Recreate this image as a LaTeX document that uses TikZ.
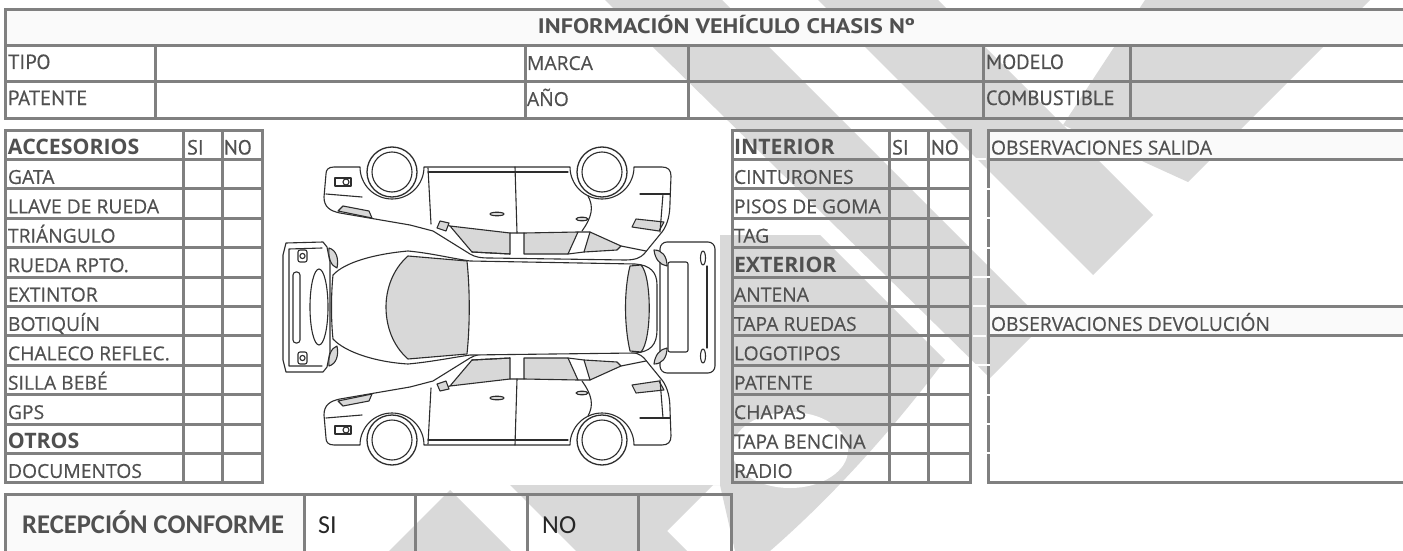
\documentclass[tikz,border=0pt]{standalone}
\usepackage{fontspec}
\setmainfont{Open Sans}
\newfontfamily\osreg{Open Sans}[FakeBold=0.4]
\newfontfamily\ptsans{PT Sans}[FakeBold=0.3]
\newfontfamily\ptsansb{PT Sans Bold}
\newfontfamily\carlito{Carlito}
\definecolor{ln}{RGB}{128,128,128}
\definecolor{tx}{RGB}{80,80,80}
\definecolor{hd}{RGB}{250,250,250}
\definecolor{wm}{RGB}{217,217,217}
\definecolor{glass}{RGB}{216,216,216}
\definecolor{cl}{RGB}{45,45,45}
\newcommand\sideview{%
  \draw[car,fill=white] (326,438) -- (324,415) .. controls (324,405) and (330,401) .. (340,399)
    -- (410,387) -- (433,381) -- (470,358) .. controls (475,355) and (480,354) .. (490,354)
    -- (625,352) .. controls (635,352) and (640,354) .. (644,358) -- (662,380)
    .. controls (668,388) and (670,398) .. (670,410) -- (671,436)
    .. controls (671,442) and (668,445) .. (662,445) -- (634,445)
    arc[start angle=0,end angle=-180,radius=32] -- (424,445)
    arc[start angle=0,end angle=-180,radius=32] -- (334,445)
    .. controls (328,445) and (326,442) .. (326,438) -- cycle;
  \draw[car,fill=glass] (450,386) -- (472,360) -- (510,358) -- (510,379) -- cycle;
  \draw[car,fill=glass] (524,358) -- (568,358) -- (578,380) -- (524,379) -- cycle;
  \draw[car,fill=glass] (584,360) -- (617,362) -- (621,366) -- (590,380) -- cycle;
  \draw[car] (440,389) -- (450,386) (510,379) -- (524,379) (578,380) -- (590,380) (621,366) -- (646,361);
  \draw[car] (472,360) -- (510,358) (568,358) -- (584,360);
  \draw[car] (431,388) -- (428,444);
  \draw[car] (517,379) -- (515,445);
  \draw[car] (582,381) .. controls (592,395) and (594,405) .. (588,416);
  \draw[car] (428,440) -- (568,440);
  \draw[car,fill=glass] (497,398) ellipse [x radius=7,y radius=1.8];
  \draw[car,fill=glass] (582,393) ellipse [x radius=6,y radius=1.8];
  \draw[car,fill=glass] (437,384) -- (446,381) -- (449,389) -- (440,391) -- cycle;
  \draw[car,fill=glass] (338,401) -- (372,394) -- (369,401) -- (343,406) -- cycle;
  \draw[car] (326,418) -- (362,415);
  \draw[car] (335,426) rectangle (351,434);
  \draw[car] (346,430) circle (3);
  \draw[car,fill=glass] (632,385) -- (659,381) -- (664,390) -- (636,393) -- cycle;
  \draw[car] (640,418) -- (670,418);
  \draw[car] (660,380) -- (663,418);
  \draw[car,line width=1.3pt,fill=white] (392,440) circle (25);
  \draw[car] (392,440) circle (20);
  \draw[car,line width=1.3pt,fill=white] (602,440) circle (25);
  \draw[car] (602,440) circle (20);
}
\begin{document}
\begin{tikzpicture}[x=1pt,y=-1pt,
  tline/.style={draw=ln,line width=3pt},
  lab/.style={anchor=base west,inner sep=0pt,outer sep=0pt,text=tx,font=\osreg\fontsize{19.3}{22}\selectfont},
  blab/.style={lab,font=\fontsize{21.3}{24}\selectfont\bfseries},
  nlab/.style={lab,font=\ptsans\fontsize{20.5}{22}\selectfont},
  car/.style={draw=cl,line width=1.1pt,line join=round,line cap=round},
  wmark/.style={fill=wm,draw=none}]
\useasboundingbox (0,0) rectangle (1403,551);
\begin{scope}
\clip (0,0) rectangle (1403,551);
\fill[white] (0,0) rectangle (1403,551);
% ---------- watermark (approximate)
\fill[wmark] (605,0) -- (722,0) -- (1045,323) -- (990,378) -- cycle;
\fill[wmark] (818,0) -- (938,0) -- (1153,215) -- (1093,275) -- cycle;
\fill[wmark] (1145,0) -- (1370,0) -- (1188,182) -- (1063,125) -- cycle;
\fill[wmark] (700,235) -- (820,235) -- (945,360) .. controls (900,420) and (840,490) .. (770,551)
  -- (735,551) -- (720,485) -- (700,485) -- cycle;
\fill[white] (790,450) ellipse [x radius=58,y radius=38];
\fill[wmark] (450,490) -- (389,551) -- (511,551) -- cycle;
\fill[wmark] (510,485) -- (713,485) -- (667,531) -- (687,551) -- (576,551) -- cycle;
% car picture background
\fill[white] (270,128) rectangle (720,485);
% ---------- top table
\fill[hd] (5,10) rectangle (1410,46);
\draw[tline] (1410,10) -- (5,10) -- (5,118) -- (1410,118);
\draw[tline] (5,46) -- (1410,46) (5,82) -- (1410,82);
\foreach \xx in {155,525,688,983,1130} \draw[tline] (\xx,46) -- (\xx,118);
\node (hdr) [anchor=base,inner sep=0pt,text=tx,font=\ptsansb\fontsize{21}{24}\selectfont] at (726.5,34) {\resizebox{377pt}{\height}{INFORMACIÓN VEHÍCULO CHASIS Nº}};
\node (tipo) [nlab] at (8,69) {TIPO};
\node (pat) [nlab] at (8,105) {PATENTE};
\node (marca) [lab] at (527,70) {MARCA};
\node (anio) [lab] at (527,106) {AÑO};
\node (modelo) [nlab] at (986,69) {MODELO};
\node (comb) [nlab] at (986,105) {COMBUSTIBLE};
% ---------- left table
\draw[tline] (5,130) rectangle (262,482.8);
\foreach \xx in {183,222} \draw[tline] (\xx,130) -- (\xx,482.8);
\foreach \k in {1,...,11} \draw[tline] (5,{130+29.4*\k}) -- (262,{130+29.4*\k});
\node (acc) [blab] at (8,154.5) {ACCESORIOS};
\node (accsi) [nlab] at (187,154.5) {SI};
\node (accno) [nlab] at (224,154.5) {NO};
\node (a1) [lab] at (8,183.9) {GATA};
\node (a2) [lab] at (8,213.3) {LLAVE DE RUEDA};
\node (a3) [lab] at (8,242.7) {TRIÁNGULO};
\node (a4) [lab] at (8,272.1) {RUEDA RPTO.};
\node (a5) [lab] at (8,301.5) {EXTINTOR};
\node (a6) [lab] at (8,330.9) {BOTIQUÍN};
\node (a7) [lab] at (8,360.3) {CHALECO REFLEC.};
\node (a8) [lab] at (8,389.7) {SILLA BEBÉ};
\node (a9) [lab] at (8,419.1) {GPS};
\node (a10) [blab] at (8,448.5) {OTROS};
\node (a11) [lab] at (8,477.9) {DOCUMENTOS};
% ---------- right table
\draw[tline] (732,130) rectangle (970,482.8);
\foreach \xx in {889,928} \draw[tline] (\xx,130) -- (\xx,482.8);
\foreach \k in {1,...,11} \draw[tline] (732,{130+29.4*\k}) -- (970,{130+29.4*\k});
\node (int) [blab] at (734,154.5) {INTERIOR};
\node (intsi) [nlab] at (892,154.5) {SI};
\node (intno) [nlab] at (931,154.5) {NO};
\node (b1) [lab] at (734,183.9) {CINTURONES};
\node (b2) [lab] at (734,213.3) {PISOS DE GOMA};
\node (b3) [lab] at (734,242.7) {TAG};
\node (b4) [blab] at (734,272.1) {EXTERIOR};
\node (b5) [lab] at (734,301.5) {ANTENA};
\node (b6) [lab] at (734,330.9) {TAPA RUEDAS};
\node (b7) [lab] at (734,360.3) {LOGOTIPOS};
\node (b8) [lab] at (734,389.7) {PATENTE};
\node (b9) [lab] at (734,419.1) {CHAPAS};
\node (b10) [lab] at (734,448.5) {TAPA BENCINA};
\node (b11) [lab] at (734,477.9) {RADIO};
% ---------- observations box
\fill[hd] (988,130) rectangle (1410,159.4);
\fill[hd] (988,306.4) rectangle (1410,335.8);
\draw[tline] (1410,130) -- (988,130) -- (988,482.8) -- (1410,482.8);
\draw[tline] (988,159.4) -- (1410,159.4) (988,306.4) -- (1410,306.4) (988,335.8) -- (1410,335.8);
\node (obs1) [lab] at (991,154.5) {OBSERVACIONES SALIDA};
\node (obs2) [lab] at (991,330.9) {OBSERVACIONES DEVOLUCIÓN};
\foreach \k in {1,6,7} \draw[white,line width=2pt] (973,{130+29.4*\k}) -- (986,{130+29.4*\k});
\foreach \k in {2,3,4,5,8,9,10,11} \draw[white,line width=2pt] (973,{130+29.4*\k}) -- (990,{130+29.4*\k});
% ---------- bottom table
\fill[hd] (5,494) rectangle (304,560);
\draw[tline] (5,560) -- (5,494) -- (731,494) -- (731,560);
\foreach \xx in {304,415,527,638} \draw[tline] (\xx,494) -- (\xx,560);
\node (rec) [anchor=base west,inner sep=0pt,text=tx,font=\carlito\bfseries\fontsize{27}{30}\selectfont] at (22,533) {\resizebox{262pt}{\height}{RECEPCIÓN CONFORME}};
\node (recsi) [anchor=base west,inner sep=0pt,text=black!85,font=\carlito\fontsize{26}{30}\selectfont] at (318,533) {SI};
\node (recno) [anchor=base west,inner sep=0pt,text=black!85,font=\carlito\fontsize{26}{30}\selectfont] at (542,533) {NO};
% ---------- car diagram
\sideview
\begin{scope}[shift={(0,612)},yscale=-1]
\sideview
\end{scope}
\draw[car,fill=white] (333,275) .. controls (345,262) and (375,254) .. (408,251)
  .. controls (430,253) and (450,258) .. (470,261)
  -- (635,264) .. controls (650,265) and (657,272) .. (657,285)
  -- (657,330) .. controls (657,345) and (650,352) .. (635,353)
  -- (470,355) .. controls (450,358) and (430,362) .. (408,364)
  .. controls (375,362) and (345,352) .. (333,339)
  .. controls (331,320) and (331,295) .. (333,275) -- cycle;
\draw[car,fill=glass] (408,256) .. controls (392,270) and (386,290) .. (386,307)
  .. controls (386,325) and (392,345) .. (408,359) -- (467,354)
  .. controls (470,325) and (470,290) .. (467,261) -- cycle;
\draw[car,fill=glass] (630,266) .. controls (624,290) and (624,325) .. (630,351)
  -- (641,352) .. controls (652,340) and (652,276) .. (641,265) -- cycle;
\draw[car,fill=white] (286,243) -- (323,242) -- (327,247) -- (330,262) -- (330,352) -- (327,367)
  -- (323,372) -- (286,372) -- (283,360) -- (283,255) -- cycle;
\draw[car] (289,249) -- (322,248) (289,366) -- (322,366) (289,249) -- (289,366);
\draw[car,rounded corners=3pt] (293,272) rectangle (300,343);
\draw[car] (319,307) ellipse [x radius=9,y radius=38];
\draw[car,rounded corners=2pt] (298,250) rectangle (307,262);
\draw[car] (302.5,256) circle (2.6);
\draw[car,rounded corners=2pt] (298,352) rectangle (307,364);
\draw[car] (302.5,358) circle (2.6);
\draw[car,fill=glass] (329,248) .. controls (336,250) and (339,258) .. (337,268) .. controls (331,266) and (328,258) .. (329,248) -- cycle;
\draw[car,fill=glass] (329,366) .. controls (336,364) and (339,356) .. (337,346) .. controls (331,348) and (328,356) .. (329,366) -- cycle;
\draw[car,fill=white,rounded corners=7pt] (660,242) rectangle (715,373);
\draw[car,rounded corners=2pt] (668,262) rectangle (688,352);
\draw[car] (707,266) -- (707,348);
\draw[car] (703,258) ellipse [x radius=2.5,y radius=7];
\draw[car] (703,356) ellipse [x radius=2.5,y radius=7];
\draw[car,fill=glass] (654,250) .. controls (662,250) and (667,256) .. (667,266) .. controls (660,265) and (655,259) .. (654,250) -- cycle;
\draw[car,fill=glass] (654,364) .. controls (662,364) and (667,358) .. (667,348) .. controls (660,349) and (655,355) .. (654,364) -- cycle;
\end{scope}
\end{tikzpicture}
\end{document}
